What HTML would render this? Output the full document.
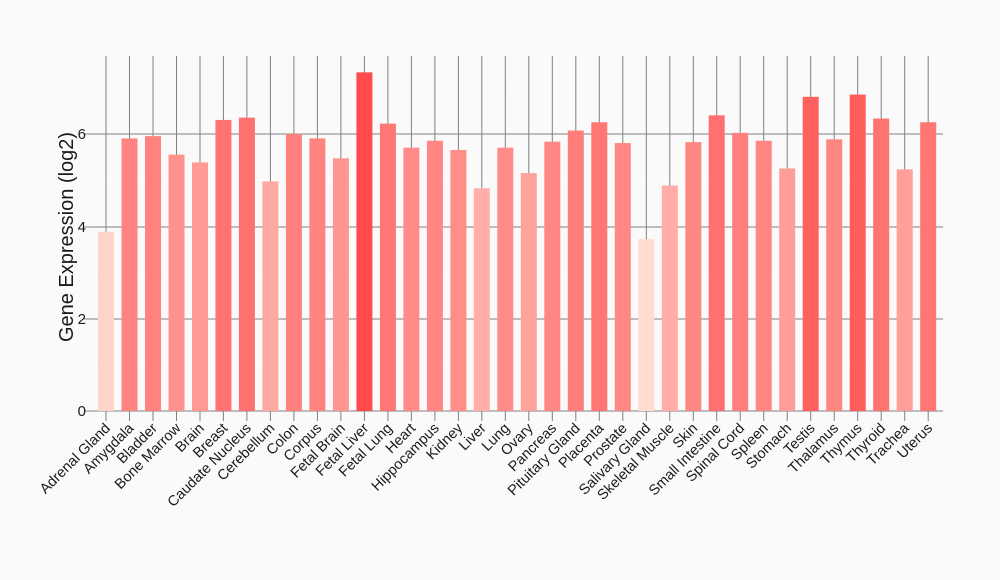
<!DOCTYPE html>
<html><head><meta charset="utf-8"><style>body{margin:0;background:#fafafa}svg{display:block}text{font-family:"Liberation Sans",sans-serif;fill:#1a1a1a}</style></head><body>
<svg width="1000" height="580" viewBox="0 0 1000 580">
<rect width="1000" height="580" fill="#fafafa"/>
<g stroke="#ffffff" stroke-width="1">
<line x1="90" x2="943" y1="365" y2="365"/><line x1="90" x2="943" y1="273" y2="273"/><line x1="90" x2="943" y1="180" y2="180"/><line x1="90" x2="943" y1="88" y2="88"/>
</g>
<g stroke="#808080" stroke-width="1">
<line x1="90" x2="943" y1="319" y2="319"/><line x1="90" x2="943" y1="227" y2="227"/><line x1="90" x2="943" y1="134" y2="134"/>
<line x1="90" x2="943" y1="411" y2="411"/>
<line x1="84" x2="90" y1="411" y2="411"/><line x1="84" x2="90" y1="319" y2="319"/><line x1="84" x2="90" y1="227" y2="227"/><line x1="84" x2="90" y1="134" y2="134"/>
</g>
<g stroke="#808080" stroke-width="1">
<line x1="106" x2="106" y1="56" y2="421"/><line x1="129.5" x2="129.5" y1="56" y2="421"/><line x1="153" x2="153" y1="56" y2="421"/><line x1="176.5" x2="176.5" y1="56" y2="421"/><line x1="200" x2="200" y1="56" y2="421"/><line x1="223.4" x2="223.4" y1="56" y2="421"/><line x1="246.9" x2="246.9" y1="56" y2="421"/><line x1="270.4" x2="270.4" y1="56" y2="421"/><line x1="293.9" x2="293.9" y1="56" y2="421"/><line x1="317.4" x2="317.4" y1="56" y2="421"/><line x1="340.9" x2="340.9" y1="56" y2="421"/><line x1="364.4" x2="364.4" y1="56" y2="421"/><line x1="387.9" x2="387.9" y1="56" y2="421"/><line x1="411.4" x2="411.4" y1="56" y2="421"/><line x1="434.9" x2="434.9" y1="56" y2="421"/><line x1="458.4" x2="458.4" y1="56" y2="421"/><line x1="481.8" x2="481.8" y1="56" y2="421"/><line x1="505.3" x2="505.3" y1="56" y2="421"/><line x1="528.8" x2="528.8" y1="56" y2="421"/><line x1="552.3" x2="552.3" y1="56" y2="421"/><line x1="575.8" x2="575.8" y1="56" y2="421"/><line x1="599.3" x2="599.3" y1="56" y2="421"/><line x1="622.8" x2="622.8" y1="56" y2="421"/><line x1="646.3" x2="646.3" y1="56" y2="421"/><line x1="669.8" x2="669.8" y1="56" y2="421"/><line x1="693.3" x2="693.3" y1="56" y2="421"/><line x1="716.7" x2="716.7" y1="56" y2="421"/><line x1="740.2" x2="740.2" y1="56" y2="421"/><line x1="763.7" x2="763.7" y1="56" y2="421"/><line x1="787.2" x2="787.2" y1="56" y2="421"/><line x1="810.7" x2="810.7" y1="56" y2="421"/><line x1="834.2" x2="834.2" y1="56" y2="421"/><line x1="857.7" x2="857.7" y1="56" y2="421"/><line x1="881.2" x2="881.2" y1="56" y2="421"/><line x1="904.7" x2="904.7" y1="56" y2="421"/><line x1="928.2" x2="928.2" y1="56" y2="421"/>
</g>
<g transform="translate(0,411) scale(1,-46.2)">
<rect x="98" width="16" y="0" height="3.88" fill="rgb(255,213,203)"/>
<rect x="121.5" width="16" y="0" height="5.9" fill="rgb(255,132,128)"/>
<rect x="145" width="16" y="0" height="5.95" fill="rgb(255,130,126)"/>
<rect x="168.5" width="16" y="0" height="5.55" fill="rgb(255,146,141)"/>
<rect x="192" width="16" y="0" height="5.38" fill="rgb(255,153,147)"/>
<rect x="215.4" width="16" y="0" height="6.3" fill="rgb(255,116,113)"/>
<rect x="238.9" width="16" y="0" height="6.35" fill="rgb(255,114,111)"/>
<rect x="262.4" width="16" y="0" height="4.97" fill="rgb(255,169,163)"/>
<rect x="285.9" width="16" y="0" height="6.0" fill="rgb(255,128,124)"/>
<rect x="309.4" width="16" y="0" height="5.9" fill="rgb(255,132,128)"/>
<rect x="332.9" width="16" y="0" height="5.47" fill="rgb(255,149,144)"/>
<rect x="356.4" width="16" y="0" height="7.33" fill="rgb(255,75,75)"/>
<rect x="379.9" width="16" y="0" height="6.22" fill="rgb(255,119,116)"/>
<rect x="403.4" width="16" y="0" height="5.7" fill="rgb(255,140,136)"/>
<rect x="426.9" width="16" y="0" height="5.85" fill="rgb(255,134,130)"/>
<rect x="450.4" width="16" y="0" height="5.65" fill="rgb(255,142,137)"/>
<rect x="473.8" width="16" y="0" height="4.82" fill="rgb(255,175,168)"/>
<rect x="497.3" width="16" y="0" height="5.7" fill="rgb(255,140,136)"/>
<rect x="520.8" width="16" y="0" height="5.15" fill="rgb(255,162,156)"/>
<rect x="544.3" width="16" y="0" height="5.83" fill="rgb(255,135,131)"/>
<rect x="567.8" width="16" y="0" height="6.07" fill="rgb(255,125,122)"/>
<rect x="591.3" width="16" y="0" height="6.25" fill="rgb(255,118,115)"/>
<rect x="614.8" width="16" y="0" height="5.8" fill="rgb(255,136,132)"/>
<rect x="638.3" width="16" y="0" height="3.72" fill="rgb(255,219,209)"/>
<rect x="661.8" width="16" y="0" height="4.88" fill="rgb(255,173,166)"/>
<rect x="685.3" width="16" y="0" height="5.82" fill="rgb(255,135,131)"/>
<rect x="708.7" width="16" y="0" height="6.4" fill="rgb(255,112,110)"/>
<rect x="732.2" width="16" y="0" height="6.02" fill="rgb(255,127,124)"/>
<rect x="755.7" width="16" y="0" height="5.85" fill="rgb(255,134,130)"/>
<rect x="779.2" width="16" y="0" height="5.25" fill="rgb(255,158,152)"/>
<rect x="802.7" width="16" y="0" height="6.8" fill="rgb(255,96,95)"/>
<rect x="826.2" width="16" y="0" height="5.88" fill="rgb(255,133,129)"/>
<rect x="849.7" width="16" y="0" height="6.85" fill="rgb(255,94,93)"/>
<rect x="873.2" width="16" y="0" height="6.33" fill="rgb(255,115,112)"/>
<rect x="896.7" width="16" y="0" height="5.23" fill="rgb(255,159,153)"/>
<rect x="920.2" width="16" y="0" height="6.25" fill="rgb(255,118,115)"/>
</g>
<g font-size="15" text-anchor="end">
<text x="86" y="416">0</text><text x="86" y="324">2</text><text x="86" y="232">4</text><text x="86" y="139">6</text>
</g>
<text transform="translate(73,237) rotate(-90)" text-anchor="middle" font-size="20">Gene Expression (log2)</text>
<g font-size="14.5" text-anchor="end">
<text transform="translate(111,429) rotate(-45)">Adrenal Gland</text>
<text transform="translate(134.5,429) rotate(-45)">Amygdala</text>
<text transform="translate(158,429) rotate(-45)">Bladder</text>
<text transform="translate(181.5,429) rotate(-45)">Bone Marrow</text>
<text transform="translate(205,429) rotate(-45)">Brain</text>
<text transform="translate(228.4,429) rotate(-45)">Breast</text>
<text transform="translate(251.9,429) rotate(-45)">Caudate Nucleus</text>
<text transform="translate(275.4,429) rotate(-45)">Cerebellum</text>
<text transform="translate(298.9,429) rotate(-45)">Colon</text>
<text transform="translate(322.4,429) rotate(-45)">Corpus</text>
<text transform="translate(345.9,429) rotate(-45)">Fetal Brain</text>
<text transform="translate(369.4,429) rotate(-45)">Fetal Liver</text>
<text transform="translate(392.9,429) rotate(-45)">Fetal Lung</text>
<text transform="translate(416.4,429) rotate(-45)">Heart</text>
<text transform="translate(439.9,429) rotate(-45)">Hippocampus</text>
<text transform="translate(463.4,429) rotate(-45)">Kidney</text>
<text transform="translate(486.8,429) rotate(-45)">Liver</text>
<text transform="translate(510.3,429) rotate(-45)">Lung</text>
<text transform="translate(533.8,429) rotate(-45)">Ovary</text>
<text transform="translate(557.3,429) rotate(-45)">Pancreas</text>
<text transform="translate(580.8,429) rotate(-45)">Pituitary Gland</text>
<text transform="translate(604.3,429) rotate(-45)">Placenta</text>
<text transform="translate(627.8,429) rotate(-45)">Prostate</text>
<text transform="translate(651.3,429) rotate(-45)">Salivary Gland</text>
<text transform="translate(674.8,429) rotate(-45)">Skeletal Muscle</text>
<text transform="translate(698.3,429) rotate(-45)">Skin</text>
<text transform="translate(721.7,429) rotate(-45)">Small Intestine</text>
<text transform="translate(745.2,429) rotate(-45)">Spinal Cord</text>
<text transform="translate(768.7,429) rotate(-45)">Spleen</text>
<text transform="translate(792.2,429) rotate(-45)">Stomach</text>
<text transform="translate(815.7,429) rotate(-45)">Testis</text>
<text transform="translate(839.2,429) rotate(-45)">Thalamus</text>
<text transform="translate(862.7,429) rotate(-45)">Thymus</text>
<text transform="translate(886.2,429) rotate(-45)">Thyroid</text>
<text transform="translate(909.7,429) rotate(-45)">Trachea</text>
<text transform="translate(933.2,429) rotate(-45)">Uterus</text>
</g>
</svg>
</body></html>
